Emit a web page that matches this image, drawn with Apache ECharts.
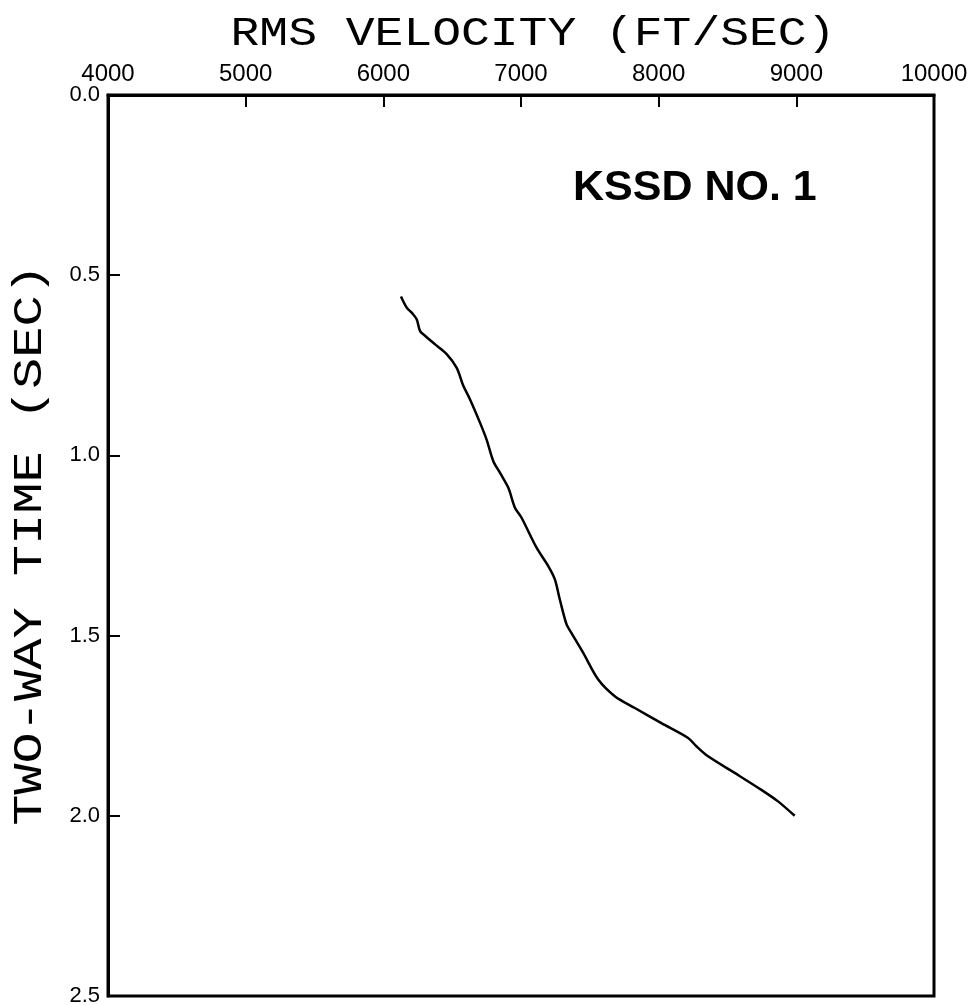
<!DOCTYPE html>
<html>
<head>
<meta charset="utf-8">
<script src="https://cdn.jsdelivr.net/npm/echarts@6/dist/echarts.min.js"></script>
<style>html,body{margin:0;padding:0;background:#fff}#c{width:971px;height:1005px}</style>
</head>
<body>
<div id="c"></div>
<script>
const velocity = [6128, 6170, 6206, 6242, 6267, 6303, 6376, 6460, 6533, 6581, 6629, 6702, 6750, 6799, 6847, 6908, 6956, 7004, 7113, 7198, 7246, 7282, 7331, 7367, 7452, 7561, 7681, 7827, 8020, 8214, 8274, 8359, 8552, 8746, 8867, 8988];
const twoWayTime = [0.559, 0.590, 0.604, 0.622, 0.655, 0.668, 0.692, 0.719, 0.757, 0.807, 0.844, 0.909, 0.956, 1.016, 1.048, 1.090, 1.145, 1.173, 1.256, 1.307, 1.344, 1.400, 1.469, 1.493, 1.548, 1.622, 1.668, 1.701, 1.743, 1.784, 1.807, 1.835, 1.881, 1.928, 1.960, 2.000];
const xTitle = 'RMS VELOCITY (FT/SEC)';
const yTitle = 'TWO-WAY TIME (SEC)';
const wellName = 'KSSD NO. 1';

const chart = echarts.init(document.getElementById('c'), null, {renderer: 'canvas'});
const pts = velocity.map((v, i) => [v, twoWayTime[i]]);
const lineStyleAxis = {color: '#000', width: 3};
chart.setOption({
  animation: false,
  backgroundColor: '#fff',
  grid: {left: 108, right: 37, top: 95, bottom: 9, containLabel: false, outerBoundsMode: 'none',
         show: true, borderColor: '#000', borderWidth: 3, backgroundColor: 'transparent'},
  xAxis: {
    type: 'value', position: 'top', min: 4000, max: 10000, interval: 1000,
    axisLine: {show: true, lineStyle: lineStyleAxis},
    axisTick: {show: true, inside: true, length: 12, lineStyle: {color: '#000', width: 2}},
    axisLabel: {margin: 9, fontFamily: 'Liberation Sans', fontSize: 24, color: '#000', formatter: v => String(v), hideOverlap: false},
    splitLine: {show: false}
  },
  yAxis: {
    type: 'value', inverse: true, min: 0, max: 2.5, interval: 0.5,
    axisLine: {show: true, lineStyle: lineStyleAxis},
    axisTick: {show: true, inside: true, length: 12, lineStyle: {color: '#000', width: 2}},
    axisLabel: {margin: 8, fontFamily: 'Liberation Sans', fontSize: 22, color: '#000', formatter: v => v.toFixed(1)},
    splitLine: {show: false}
  },
  series: [{
    type: 'line', data: pts, showSymbol: false, smooth: 0.3,
    lineStyle: {color: '#000', width: 2.5}
  }],
  graphic: [{
    type: 'text', x: 533, y: 34, scaleX: 1.2,
    style: {text: xTitle, font: '40px "Liberation Mono"', fill: '#000', align: 'center', verticalAlign: 'middle'}
  }, {
    type: 'text', x: 30, y: 545, rotation: Math.PI / 2, scaleX: 1.3,
    style: {text: yTitle, font: '40px "Liberation Mono"', fill: '#000', align: 'center', verticalAlign: 'middle'}
  }, {
    type: 'text', left: 573, top: 167,
    style: {text: wellName, font: 'bold 43px "Liberation Sans"', fill: '#000'}
  }]
});
</script>
</body>
</html>
